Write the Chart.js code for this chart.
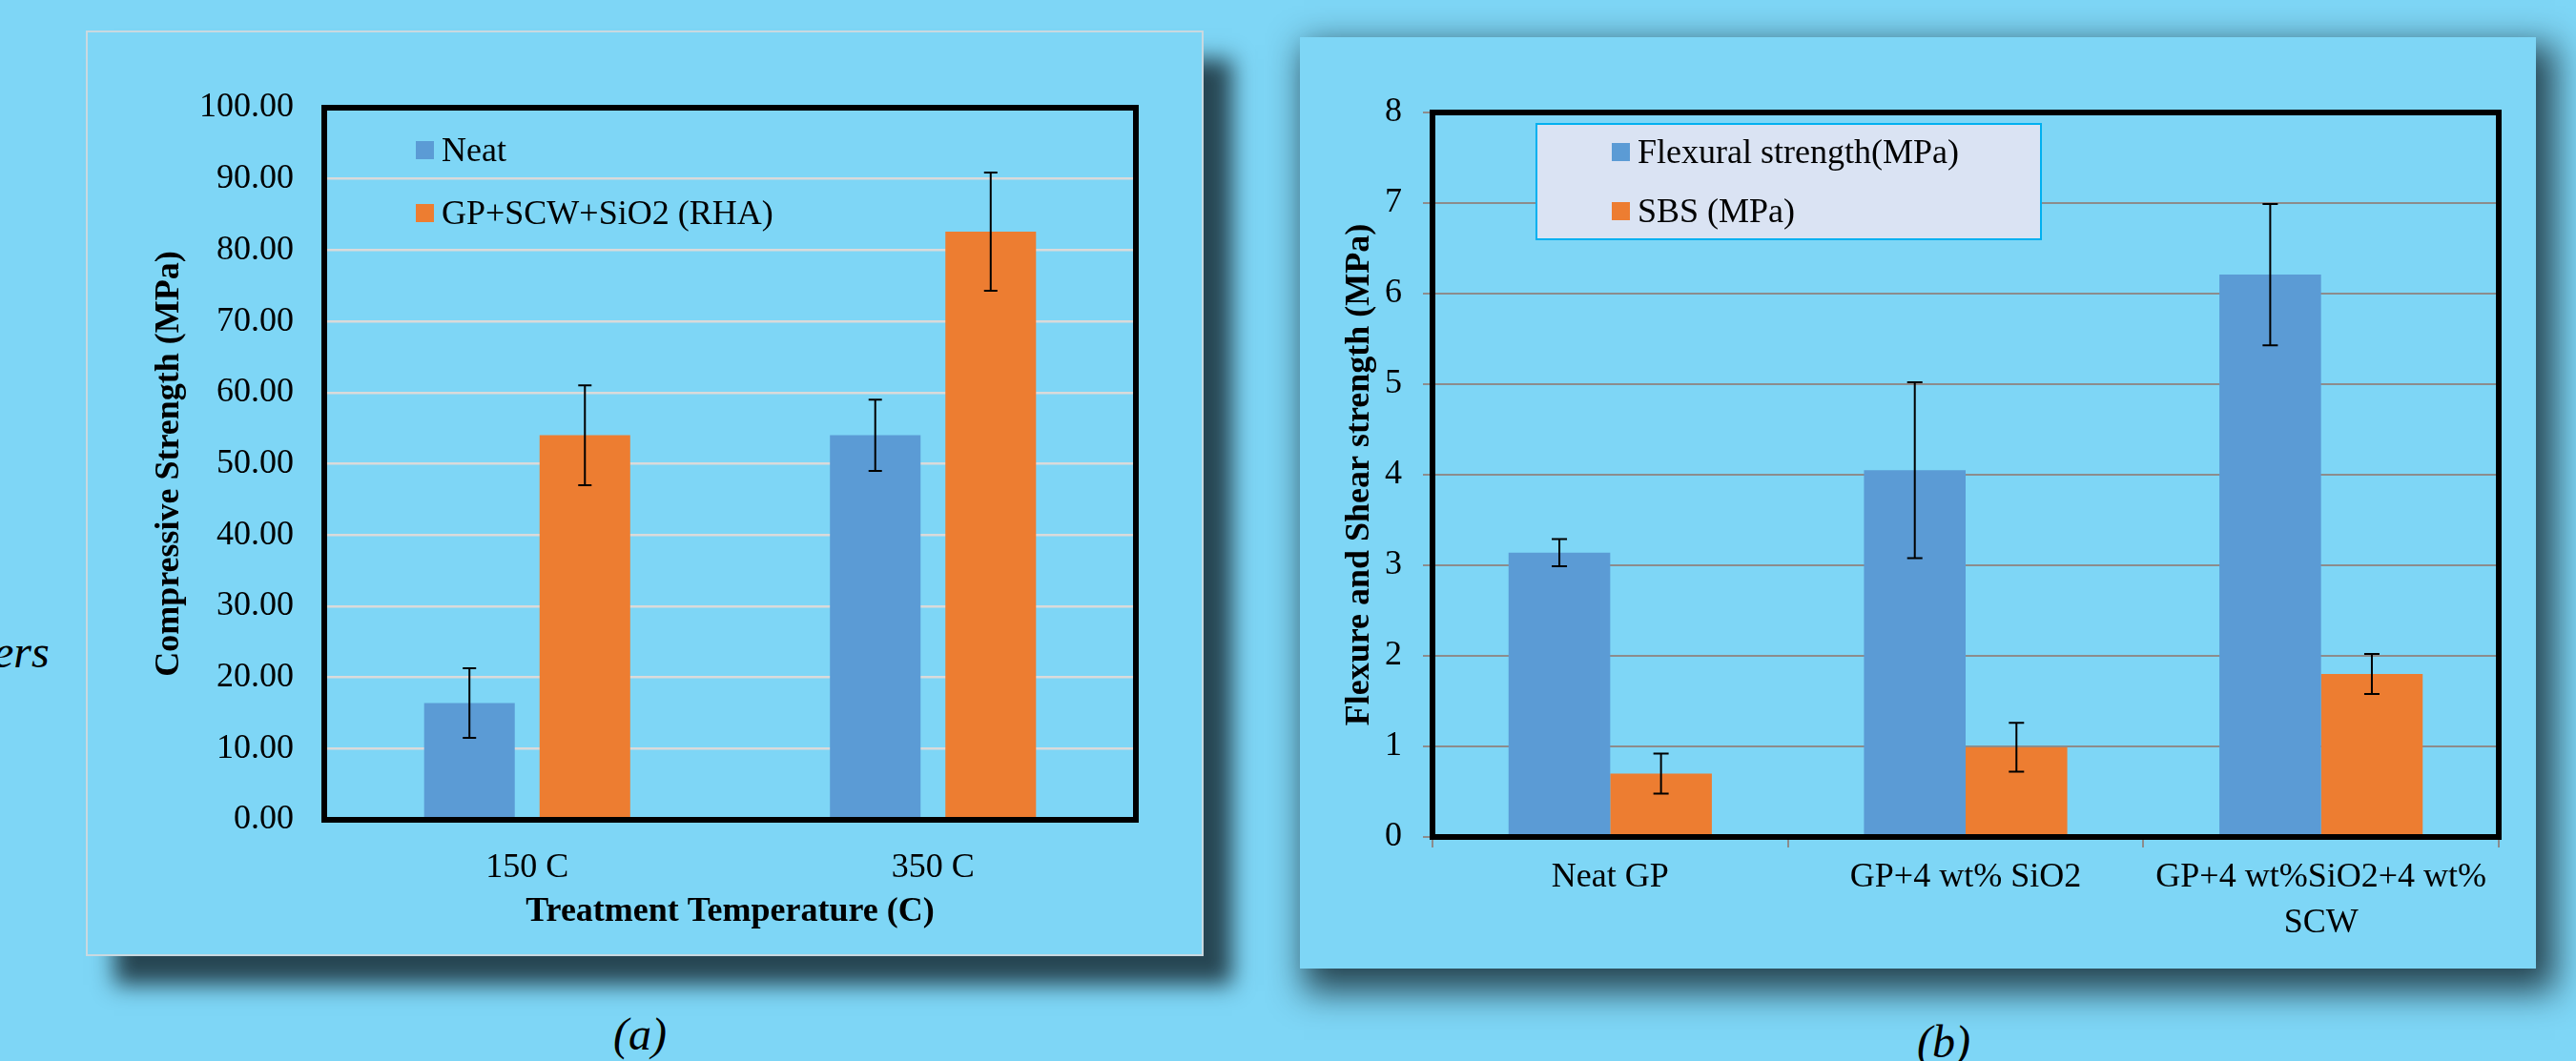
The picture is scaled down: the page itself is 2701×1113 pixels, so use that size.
<!DOCTYPE html>
<html>
<head>
<meta charset="utf-8">
<script src="https://cdn.jsdelivr.net/npm/chart.js@4.4.1/dist/chart.umd.min.js"></script>
<style>
  body { margin: 0; width: 2701px; height: 1113px; overflow: hidden; position: relative;
         background: #7ed6f6; font-family: "Liberation Serif", "Times New Roman", serif; color: #000; }
  .panel { position: absolute; background: #7ed6f6; box-sizing: border-box; }
  #panelA { left: 90px; top: 32px; width: 1172px; height: 971px; border: 2px solid #c9d9e0;
            box-shadow: 30px 30px 22px rgba(32, 58, 68, 0.92); }
  #panelB { left: 1363px; top: 39px; width: 1296px; height: 977px;
            box-shadow: 12px 16px 34px 8px rgba(32, 58, 68, 0.92); }
  canvas { position: absolute; left: 0; top: 0; }
  .legend { position: absolute; font-size: 36px; box-sizing: border-box; }
  .legend .item { display: flex; align-items: center; white-space: nowrap; }
  .legend .swatch { display: inline-block; width: 19px; height: 19px; margin-right: 8px; }
  #legendA { left: 436px; top: 124px; }
  #legendA .item { height: 66px; }
  #legendB { left: 1610px; top: 129px; width: 531px; height: 123px; background: #dae3f3;
             border: 2px solid #00b0f0; padding: 0 0 0 78px; }
  #legendB .item { height: 62px; position: relative; top: -3px; }
  .caption { position: absolute; font-style: italic; font-size: 48px; line-height: 1; white-space: nowrap; }
</style>
</head>
<body>
<div class="caption" style="left:-7px; top:660px;">ers</div>

<div class="panel" id="panelA">
  <canvas id="chartA" width="1168" height="967"></canvas>
</div>
<div class="legend" id="legendA"></div>

<div class="panel" id="panelB">
  <canvas id="chartB" width="1296" height="977"></canvas>
</div>
<div class="legend" id="legendB"></div>

<div class="caption" style="left:643px; top:1061px;">(a)</div>
<div class="caption" style="left:2010px; top:1069px;">(b)</div>

<script>
// (a) compressive strength
const categoriesA = ['150 C', '350 C'];
const neatA = [16.4, 54.0];
const neatErrA = [4.9, 5.0];
const rhaA = [54.0, 82.6];
const rhaErrA = [7.0, 8.3];
const yTicksA = ['0.00', '10.00', '20.00', '30.00', '40.00', '50.00', '60.00', '70.00', '80.00', '90.00', '100.00'];

// (b) flexure and shear strength
const categoriesB = ['Neat GP', 'GP+4 wt% SiO2', ['GP+4 wt%SiO2+4 wt%', 'SCW']];
const flexuralB = [3.14, 4.05, 6.21];
const flexuralErrB = [0.15, 0.97, 0.78];
const sbsB = [0.70, 0.99, 1.80];
const sbsErrB = [0.22, 0.27, 0.22];
const yTicksB = ['0', '1', '2', '3', '4', '5', '6', '7', '8'];

const serif = '"Liberation Serif", "Times New Roman", serif';
const blue = '#5b9bd5';
const orange = '#ed7d31';

// error bars drawn from each dataset's "errors" array
const errorBars = {
  id: 'errorBars',
  afterDatasetsDraw(chart, args, opts) {
    const { ctx } = chart;
    const y = chart.scales.y;
    ctx.save();
    ctx.strokeStyle = '#000';
    ctx.lineWidth = opts.width;
    chart.data.datasets.forEach((ds, di) => {
      chart.getDatasetMeta(di).data.forEach((bar, i) => {
        const top = y.getPixelForValue(ds.data[i] + ds.errors[i]);
        const bottom = y.getPixelForValue(ds.data[i] - ds.errors[i]);
        ctx.beginPath();
        ctx.moveTo(bar.x, top); ctx.lineTo(bar.x, bottom);
        ctx.moveTo(bar.x - opts.cap, top); ctx.lineTo(bar.x + opts.cap, top);
        ctx.moveTo(bar.x - opts.cap, bottom); ctx.lineTo(bar.x + opts.cap, bottom);
        ctx.stroke();
      });
    });
    ctx.restore();
  }
};

// black box round the plot area
const frame = {
  id: 'frame',
  afterDraw(chart, args, opts) {
    const { ctx, chartArea: a } = chart;
    ctx.save();
    ctx.strokeStyle = '#000';
    ctx.lineWidth = opts.width;
    ctx.strokeRect(a.left, a.top, a.right - a.left, a.bottom - a.top);
    ctx.restore();
  }
};

function buildLegend(chart, el) {
  chart.data.datasets.forEach(ds => {
    const row = document.createElement('div');
    row.className = 'item';
    const sw = document.createElement('span');
    sw.className = 'swatch';
    sw.style.background = ds.backgroundColor;
    const tx = document.createElement('span');
    tx.textContent = ds.label;
    row.append(sw, tx);
    el.appendChild(row);
  });
}

const chartA = new Chart(document.getElementById('chartA'), {
  type: 'bar',
  data: {
    labels: categoriesA,
    datasets: [
      { label: 'Neat', data: neatA, errors: neatErrA, backgroundColor: blue },
      { label: 'GP+SCW+SiO2 (RHA)', data: rhaA, errors: rhaErrA, backgroundColor: orange }
    ]
  },
  options: {
    responsive: false,
    animation: false,
    layout: { padding: { left: 64, top: 79, right: 69, bottom: 0 } },
    datasets: { bar: { categoryPercentage: 0.569, barPercentage: 0.785 } },
    plugins: {
      legend: { display: false },
      tooltip: { enabled: false },
      errorBars: { width: 2, cap: 7 },
      frame: { width: 6 }
    },
    scales: {
      x: {
        grid: { display: false },
        border: { display: false },
        ticks: { color: '#000', font: { family: serif, size: 36 }, padding: 21, maxRotation: 0, autoSkip: false },
        title: { display: true, text: 'Treatment Temperature (C)', color: '#000',
                 font: { family: serif, size: 36, weight: 'bold' }, padding: { top: 0, bottom: 23 } },
        afterFit: s => { s.height = 141; }
      },
      y: {
        min: 0,
        max: 100,
        grid: { color: '#dadada', lineWidth: 2.5, drawTicks: false },
        border: { display: false },
        ticks: { stepSize: 10, color: '#000', font: { family: serif, size: 36 }, padding: 32,
                 callback: (v, i) => yTicksA[i] },
        title: { display: true, text: 'Compressive Strength (MPa)', color: '#000',
                 font: { family: serif, size: 36, weight: 'bold' }, padding: { top: 0, bottom: 0 } },
        afterFit: s => { s.width = 184; }
      }
    }
  },
  plugins: [errorBars, frame]
});

const chartB = new Chart(document.getElementById('chartB'), {
  type: 'bar',
  data: {
    labels: categoriesB,
    datasets: [
      { label: 'Flexural strength(MPa)', data: flexuralB, errors: flexuralErrB, backgroundColor: blue },
      { label: 'SBS (MPa)', data: sbsB, errors: sbsErrB, backgroundColor: orange }
    ]
  },
  options: {
    responsive: false,
    animation: false,
    layout: { padding: { left: 41, top: 79, right: 39, bottom: 0 } },
    datasets: { bar: { categoryPercentage: 0.572, barPercentage: 1.0 } },
    plugins: {
      legend: { display: false },
      tooltip: { enabled: false },
      errorBars: { width: 2, cap: 8 },
      frame: { width: 6 }
    },
    scales: {
      x: {
        grid: { display: true, drawOnChartArea: false, drawTicks: true, tickLength: 11, color: '#8c8c8c', lineWidth: 2 },
        border: { display: false },
        ticks: { color: '#000', font: { family: serif, size: 36, lineHeight: 1.33 }, padding: 8,
                 maxRotation: 0, autoSkip: false },
        afterFit: s => { s.height = 138; }
      },
      y: {
        min: 0,
        max: 8,
        grid: { color: '#8c8c8c', lineWidth: 2, drawTicks: true, tickLength: 10 },
        border: { display: false },
        ticks: { stepSize: 1, color: '#000', font: { family: serif, size: 36 }, padding: 22,
                 callback: (v, i) => yTicksB[i] },
        title: { display: true, text: 'Flexure and Shear strength (MPa)', color: '#000',
                 font: { family: serif, size: 36, weight: 'bold' }, padding: { top: 0, bottom: 0 } },
        afterFit: s => { s.width = 98; }
      }
    }
  },
  plugins: [errorBars, frame]
});

buildLegend(chartA, document.getElementById('legendA'));
buildLegend(chartB, document.getElementById('legendB'));
</script>
</body>
</html>
